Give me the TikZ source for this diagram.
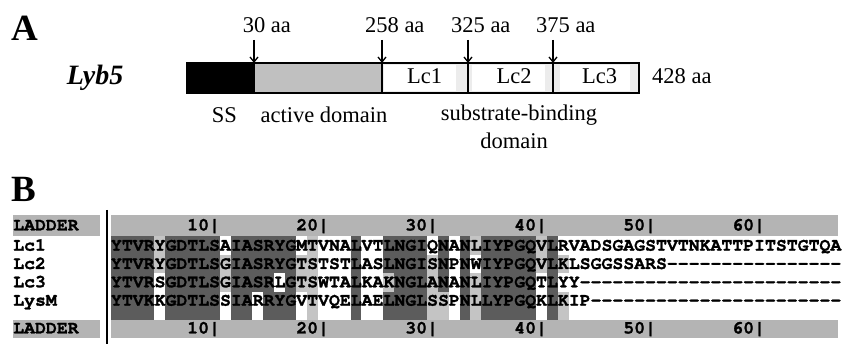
\documentclass[tikz,border=0pt]{standalone}
\usepackage{fontspec}
\setmainfont{Liberation Serif}
\setmonofont{TeX Gyre Cursor}[BoldFeatures={FakeBold=1.3}]
\usepackage{xstring}
\usetikzlibrary{arrows.meta}
\definecolor{shD}{RGB}{92,92,92}
\definecolor{shL}{RGB}{196,196,196}
\definecolor{shW}{RGB}{255,255,255}
\definecolor{ladderg}{RGB}{180,180,180}
\definecolor{actg}{RGB}{192,192,192}
\definecolor{lcg}{RGB}{236,236,236}
\newcommand\seqfont{\ttfamily\bfseries\fontsize{18.17}{20}\selectfont}
\def\seqA{YTVRYGDTLSAIASRYGMTVNALVTLNGIQNANLIYPGQVLRVADSGAGSTVTNKATTPITSTGTQA}
\def\seqB{YTVRYGDTLSGIASRYGTSTSTLASLNGISNPNWIYPGQVLKLSGGSSARS----------------}
\def\seqC{YTVRSGDTLSGIASRLGTSWTALKAKNGLANANLIYPGQTLYY------------------------}
\def\seqD{YTVKKGDTLSSIARRYGVTVQELAELNGLSSPNLLYPGQKLKIP-----------------------}
\def\shA{DDDDLDDDDDWDDDDDDWLWWWDWWDDDDWDWDLDDDDDLDWWWWWWWWWWWWWWWWWWWWWWWWWW}
\def\shB{DDDDLDDDDDLDDDDDDLLWWWDWWDDDDLDWDWDDDDDLDLWWWWWWWWWWWWWWWWWWWWWWWWW}
\def\shC{DDDDWDDDDDLDDDDWDLLWWWDWWLDDDLDWDLDDDDDWDWWWWWWWWWWWWWWWWWWWWWWWWWW}
\def\shD{DDDDWDDDDDWDDWDDDWLWWWDWWDDDDLLWDLDDDDDWDLWWWWWWWWWWWWWWWWWWWWWWWWW}
\begin{document}
\begin{tikzpicture}[x=1pt,y=-1pt,
  seqch/.style={font=\seqfont, inner sep=0pt, anchor=base},
  lbl/.style={font=\fontsize{22.5}{25}\selectfont, inner sep=0pt},
  arr/.style={line width=1.3pt, -{Straight Barb[length=5pt,width=8pt]}},
  boxline/.style={line width=1.4pt}]
\useasboundingbox (0,0) rectangle (843,344);
\fill[white] (0,0) rectangle (843,344);
% ---------- Part A ----------
\node[font=\bfseries\fontsize{37}{39}\selectfont, inner sep=0pt, anchor=base west] (A) at (11,41) {A};
\node[font=\bfseries\itshape\fontsize{28}{30}\selectfont, inner sep=0pt] (lyb) at (95,78) {Lyb5};
\fill[black] (187,63) rectangle (254,93);
\fill[actg] (254,63) rectangle (382,93);
\fill[lcg] (382,63) rectangle (639,93);
\fill[white] (384,65) rectangle (456,91);
\fill[white] (472,65) rectangle (545,91);
\fill[white] (560,65) rectangle (630,91);
\draw[boxline] (187,63) rectangle (639,93);
\draw[boxline] (254,63) -- (254,93);
\draw[boxline] (382,63) -- (382,93);
\draw[boxline] (468,63) -- (468,93);
\draw[boxline] (553,63) -- (553,93);
\node[lbl] (lc1) at (424.5,76.5) {Lc1};
\node[lbl] (lc2) at (514,76.5) {Lc2};
\node[lbl] (lc3) at (599.5,76.5) {Lc3};
\node[lbl, anchor=west] (end) at (652,76.5) {428 aa};
\foreach \xx/\nn in {254/30,382/258,468/325,553/375}{
  \node[lbl, anchor=base] (t\nn) at (\xx,33) {\nn\rlap{ aa}};
  \coordinate (s\nn) at (\xx,40);
  \coordinate (e\nn) at (\xx,63);
  \draw[arr] (s\nn) -- (e\nn);
}
\node[lbl] (ss) at (224.5,115) {SS};
\node[lbl] (act) at (324,115) {active domain};
\node[lbl] (sub) at (519,115) {substrate-binding};
\node[lbl] (dom) at (514,141) {domain};
% ---------- Part B ----------
\node[font=\bfseries\fontsize{37}{39}\selectfont, inner sep=0pt, anchor=base west] (B) at (11,202) {B};
\fill[ladderg] (13,215) rectangle (100,236.5);
\fill[ladderg] (13,320) rectangle (100,338);
\fill[ladderg] (111,215) rectangle (838,236.5);
\fill[ladderg] (111,320) rectangle (838,338);
\foreach \nm/\yb in {LADDER/230.5, Lc1/250.7, Lc2/269, Lc3/287.3, LysM/305.7}{
  \node[font=\seqfont, inner sep=0pt, anchor=base west] (lab\nm) at (13,\yb) {\nm};
}
\node[font=\seqfont, inner sep=0pt, anchor=base west] (labLADDERb) at (13,333.5) {LADDER};
% shading
\foreach \r/\yt/\yB/\H in {1/236.5/255/\shA, 2/255/273.5/\shB, 3/273.5/292/\shC, 4/292/320/\shD}{
  \foreach \i in {1,...,67}{
    \StrChar{\H}{\i}[\sh]
    \pgfmathsetmacro\xl{111+(\i-1)*10.9-0.3}
    \pgfmathsetmacro\xr{111+\i*10.9+0.3}
    \fill[fill=sh\sh] (\xl,\yt-0.3) rectangle (\xr,\yB+0.3);
  }
}
% letters
\foreach \r/\yb/\S in {1/250.7/\seqA, 2/269/\seqB, 3/287.3/\seqC, 4/305.7/\seqD}{
  \foreach \i in {1,...,67}{
    \StrChar{\S}{\i}[\ch]
    \pgfmathsetmacro\xc{105.55+\i*10.9}
    \node[seqch] (c\r-\i) at (\xc,\yb) {\ch};
  }
}
% ladders
\foreach \n in {1,...,6}{
  \foreach \yb/\tb in {230.5/t,333.5/b}{
    \pgfmathsetmacro\xa{105.55+(10*\n-2)*10.9}
    \pgfmathsetmacro\xb{105.55+(10*\n-1)*10.9}
    \pgfmathsetmacro\xcc{105.55+(10*\n)*10.9}
    \node[seqch] (l\tb\n a) at (\xa,\yb) {\n};
    \node[seqch] (l\tb\n b) at (\xb,\yb) {0};
    \node[seqch] (l\tb\n c) at (\xcc,\yb) {|};
  }
}
\coordinate (vt) at (107,210);
\coordinate (vb) at (107,344);
\draw[line width=1.6pt] (vt) -- (vb);
\end{tikzpicture}
\end{document}
